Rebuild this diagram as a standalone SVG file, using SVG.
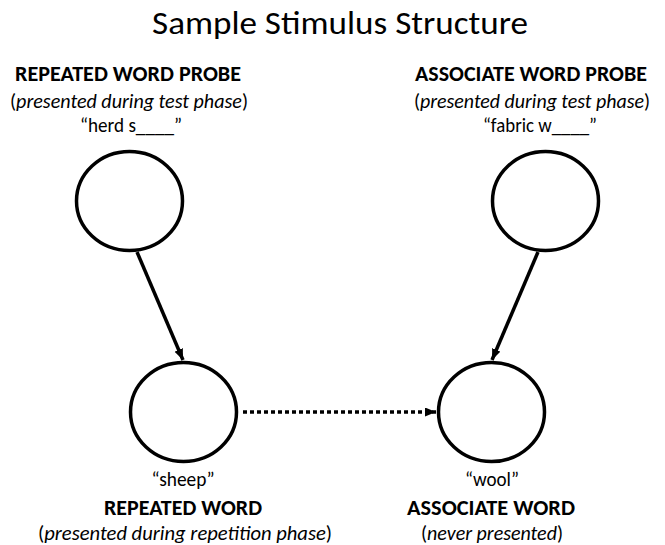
<svg xmlns="http://www.w3.org/2000/svg" width="665" height="545" viewBox="0 0 665 545">
  <style>
    text { font-family: Carlito, "Open Sans", "Liberation Sans", sans-serif; fill: #000; text-anchor: middle; }
    .title { font-size: 33px; }
    .head { font-size: 22px; font-weight: bold; }
    .note { font-size: 20px; }
    .note .it { font-style: italic; }
    .word { font-size: 20px; }
    .node { fill: #fff; stroke: #000; stroke-width: 3.5; }
    .link { stroke: #000; stroke-width: 3.5; fill: none; }
    .dotted { stroke-dasharray: 4 3; }
  </style>
  <defs>
    <marker id="arrow" markerUnits="userSpaceOnUse" markerWidth="12" markerHeight="10" refX="11" refY="4.5" orient="auto">
      <path d="M0,0 L11,4.5 L0,9 z" fill="#000"/>
    </marker>
  </defs>

  <text class="title" x="340" y="34" textLength="376" lengthAdjust="spacingAndGlyphs">Sample Stimulus Structure</text>

  <!-- connectors -->
  <g id="connectors">
    <line class="link" x1="137" y1="252" x2="183" y2="360" marker-end="url(#arrow)"/>
    <line class="link" x1="538" y1="252" x2="492" y2="360" marker-end="url(#arrow)"/>
    <line class="link dotted" x1="243" y1="412" x2="436" y2="412" marker-end="url(#arrow)"/>
  </g>

  <!-- repeated word probe -->
  <g id="repeated-probe">
    <ellipse class="node" cx="129.5" cy="201" rx="53" ry="49.5"/>
    <text class="head" x="128" y="81" textLength="226" lengthAdjust="spacingAndGlyphs">REPEATED WORD PROBE</text>
    <text class="note" x="129" y="108" textLength="238" lengthAdjust="spacingAndGlyphs">(<tspan class="it">presented during test phase</tspan>)</text>
    <text class="word" x="131" y="132" textLength="102" lengthAdjust="spacingAndGlyphs">“herd s____”</text>
  </g>

  <!-- associate word probe -->
  <g id="associate-probe">
    <ellipse class="node" cx="545.5" cy="201" rx="53" ry="49.5"/>
    <text class="head" x="531" y="81" textLength="232" lengthAdjust="spacingAndGlyphs">ASSOCIATE WORD PROBE</text>
    <text class="note" x="532" y="108" textLength="236" lengthAdjust="spacingAndGlyphs">(<tspan class="it">presented during test phase</tspan>)</text>
    <text class="word" x="540" y="132" textLength="114" lengthAdjust="spacingAndGlyphs">“fabric w____”</text>
  </g>

  <!-- repeated word -->
  <g id="repeated-word">
    <ellipse class="node" cx="183.5" cy="412" rx="53" ry="49.5"/>
    <text class="word" x="183" y="486" textLength="63" lengthAdjust="spacingAndGlyphs">“sheep”</text>
    <text class="head" x="183" y="515" textLength="158" lengthAdjust="spacingAndGlyphs">REPEATED WORD</text>
    <text class="note" x="185" y="540" textLength="294" lengthAdjust="spacingAndGlyphs">(<tspan class="it">presented during repetition phase</tspan>)</text>
  </g>

  <!-- associate word -->
  <g id="associate-word">
    <ellipse class="node" cx="491.5" cy="412" rx="53" ry="49.5"/>
    <text class="word" x="492" y="486" textLength="54" lengthAdjust="spacingAndGlyphs">“wool”</text>
    <text class="head" x="491" y="515" textLength="168" lengthAdjust="spacingAndGlyphs">ASSOCIATE WORD</text>
    <text class="note" x="492" y="540" textLength="142" lengthAdjust="spacingAndGlyphs">(<tspan class="it">never presented</tspan>)</text>
  </g>
</svg>
